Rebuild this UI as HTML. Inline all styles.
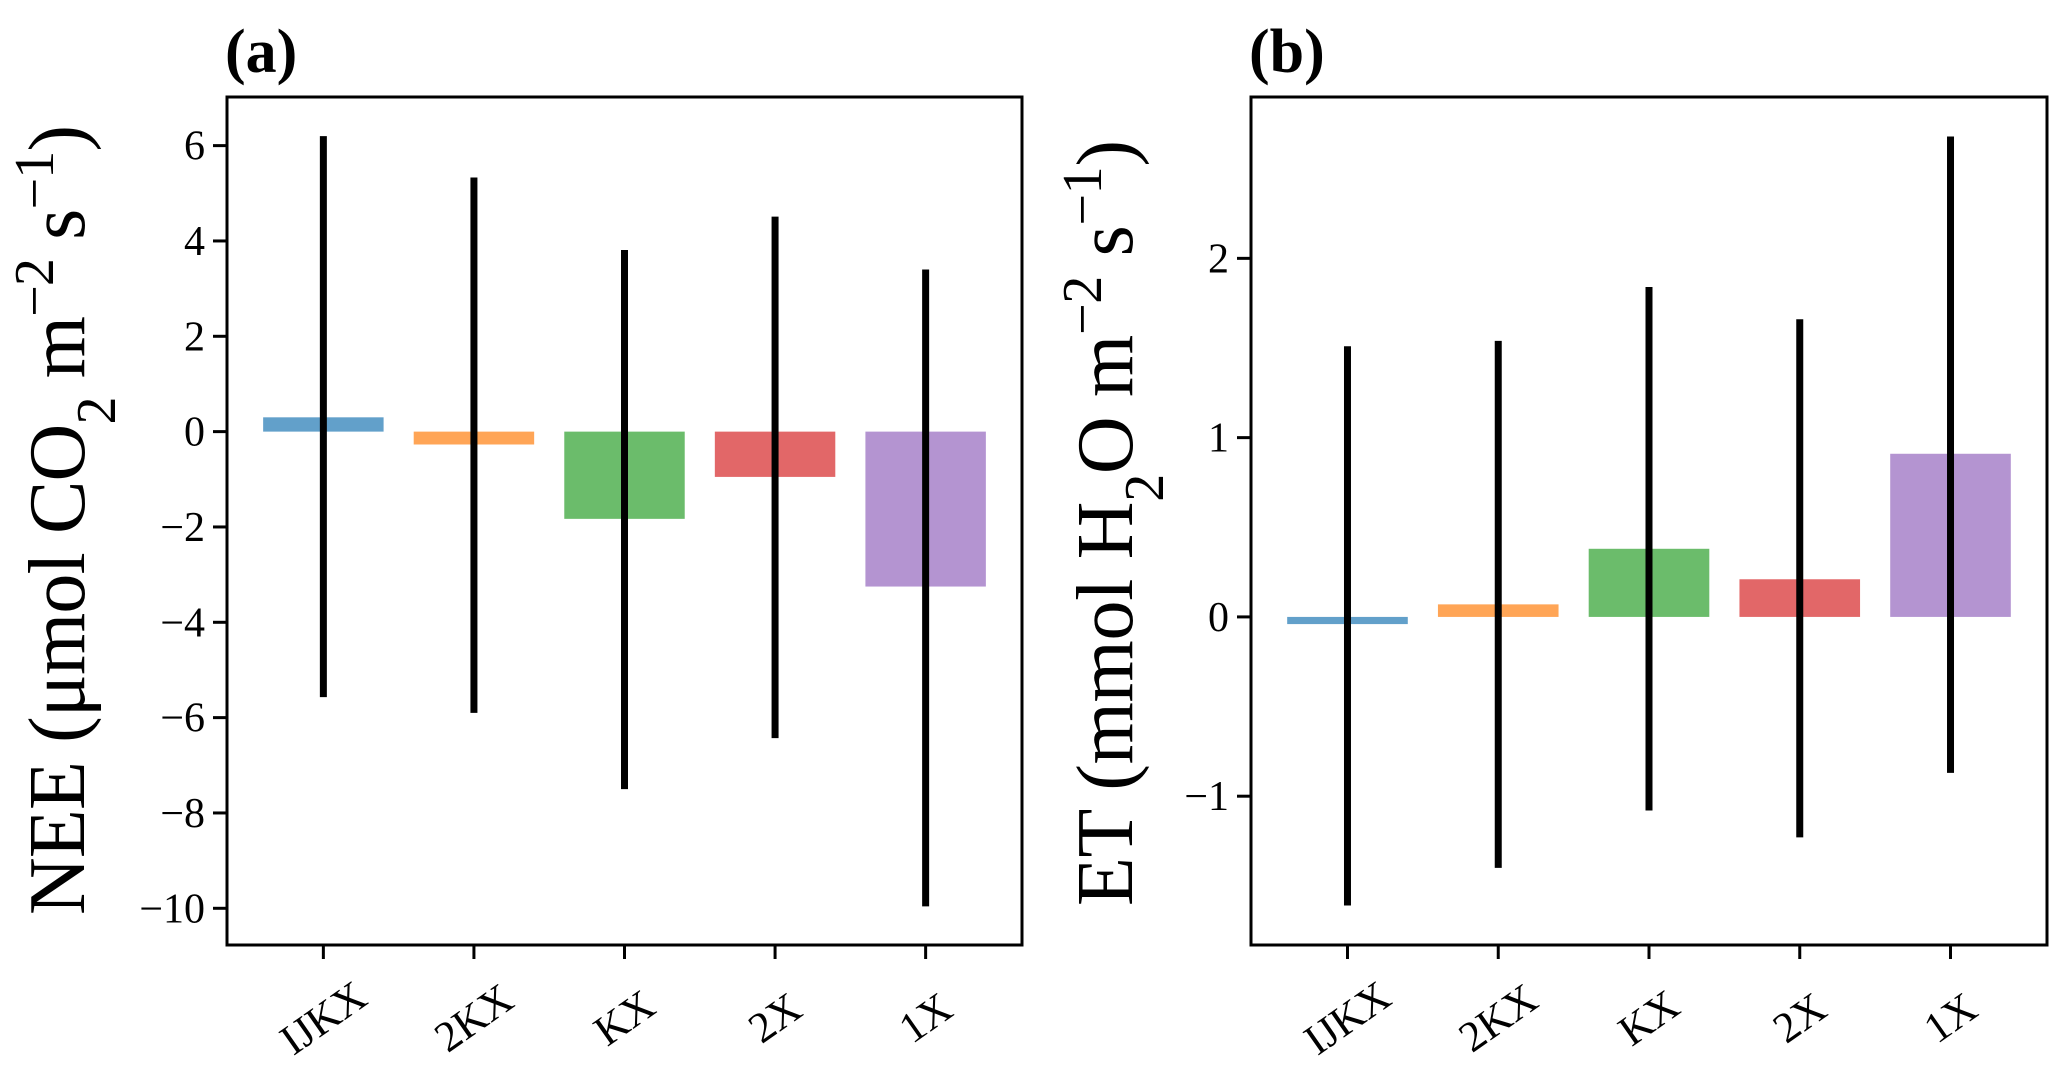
<!DOCTYPE html>
<html><head><meta charset="utf-8"><style>
html,body{margin:0;padding:0;background:#fff;}
svg{display:block;font-family:"Liberation Serif","DejaVu Serif",serif;}
</style></head><body>
<svg id="chart" width="2067" height="1071" viewBox="0 0 2067 1071"></svg>
<script>
const categories = ["IJKX","2KX","KX","2X","1X"];
const colors = ["#1f77b4","#ff7f0e","#2ca02c","#d62728","#9467bd"];
const neeValues = [0.3,-0.27,-1.83,-0.95,-3.25];
const neeErrLow = [-5.57,-5.9,-7.5,-6.43,-9.96];
const neeErrHigh = [6.2,5.33,3.81,4.51,3.4];
const neeTicks = [6,4,2,0,-2,-4,-6,-8,-10];
const etValues = [-0.04,0.07,0.38,0.21,0.91];
const etErrLow = [-1.61,-1.40,-1.08,-1.23,-0.87];
const etErrHigh = [1.51,1.54,1.84,1.66,2.68];
const etTicks = [2,1,0,-1];

const NS = "http://www.w3.org/2000/svg";
const svg = document.getElementById("chart");
function mk(tag, attrs, parent){
  const e = document.createElementNS(NS, tag);
  for (const k in attrs) e.setAttribute(k, attrs[k]);
  (parent||svg).appendChild(e);
  return e;
}
function fmt(v){ return v<0 ? "\u2212"+Math.abs(v) : String(v); }

function panel(opt){
  const g = mk("g", {});
  
  
  const L=opt.left, R=opt.right, T=97, B=945;
  const n = categories.length;
  const xs = i => L + (i + 0.64) / (n - 1 + 1.28) * (R - L);
  const ys = v => T + (opt.ymax - v) / (opt.ymax - opt.ymin) * (B - T);
  const bw = 0.8 / (n - 1 + 1.28) * (R - L);
  opt.values.forEach((v,i)=>{
    const y0 = ys(0), y1 = ys(v);
    const r = mk("rect", {x:xs(i)-bw/2, y:Math.min(y0,y1), width:bw, height:Math.abs(y1-y0), fill:colors[i], "fill-opacity":0.7}, g);
    
    
  });
  opt.errLow.forEach((lo,i)=>{
    const l = mk("line", {x1:xs(i), x2:xs(i), y1:ys(lo), y2:ys(opt.errHigh[i]), stroke:"#000", "stroke-width":7}, g);
    
    
  });
  const f = mk("rect", {x:L, y:T, width:R-L, height:B-T, fill:"none", stroke:"#000", "stroke-width":3}, g);
  
  
  opt.ticks.forEach(t=>{
    const y = ys(t);
    const tk = mk("line", {x1:L-14, x2:L, y1:y, y2:y, stroke:"#000", "stroke-width":3}, g);
    
    
    const tx = mk("text", {x:L-22, y:y+14, "text-anchor":"end", "font-size":42, fill:"#000"}, g);
    tx.textContent = fmt(t);
    
    
  });
  categories.forEach((c,i)=>{
    const x = xs(i);
    const tk = mk("line", {x1:x, x2:x, y1:B, y2:B+14, stroke:"#000", "stroke-width":3}, g);
    
    
    const cy = 1018;
    const tx = mk("text", {x:x, y:cy+14, "text-anchor":"middle", "font-size":43, fill:"#000", transform:`rotate(-35 ${x} ${cy})`}, g);
    tx.textContent = c;
    
    
  });
  const cx = opt.titleX, cyy = opt.titleY;
  const yt = mk("text", {x:cx, y:cyy, "text-anchor":"middle", "font-size":80, fill:"#000", transform:`rotate(-90 ${cx} ${cyy})`, textLength:opt.titleLen, lengthAdjust:"spacing"}, g);
  yt.innerHTML = opt.title;
  
  
  const pl = mk("text", {x:L-2, y:72, "font-size":62, "font-weight":"bold", fill:"#000"}, g);
  pl.textContent = opt.label;
  
  
}

panel({name:"panel-a-nee", left:227, right:1022, ymin:-10.77, ymax:7.02,
  values:neeValues, errLow:neeErrLow, errHigh:neeErrHigh, ticks:neeTicks,
  title:'NEE (μmol CO<tspan baseline-shift="sub" font-size="56">2</tspan> m<tspan baseline-shift="super" font-size="56">−2</tspan> s<tspan baseline-shift="super" font-size="56">−1</tspan>)',
  titleX:84, titleY:520, titleLen:790, label:"(a)"});
panel({name:"panel-b-et", left:1251, right:2047, ymin:-1.83, ymax:2.9,
  values:etValues, errLow:etErrLow, errHigh:etErrHigh, ticks:etTicks,
  title:'ET (mmol H<tspan baseline-shift="sub" font-size="56">2</tspan>O m<tspan baseline-shift="super" font-size="56">−2</tspan> s<tspan baseline-shift="super" font-size="56">−1</tspan>)',
  titleX:1132, titleY:523, titleLen:766, label:"(b)"});
</script>
</body></html>
